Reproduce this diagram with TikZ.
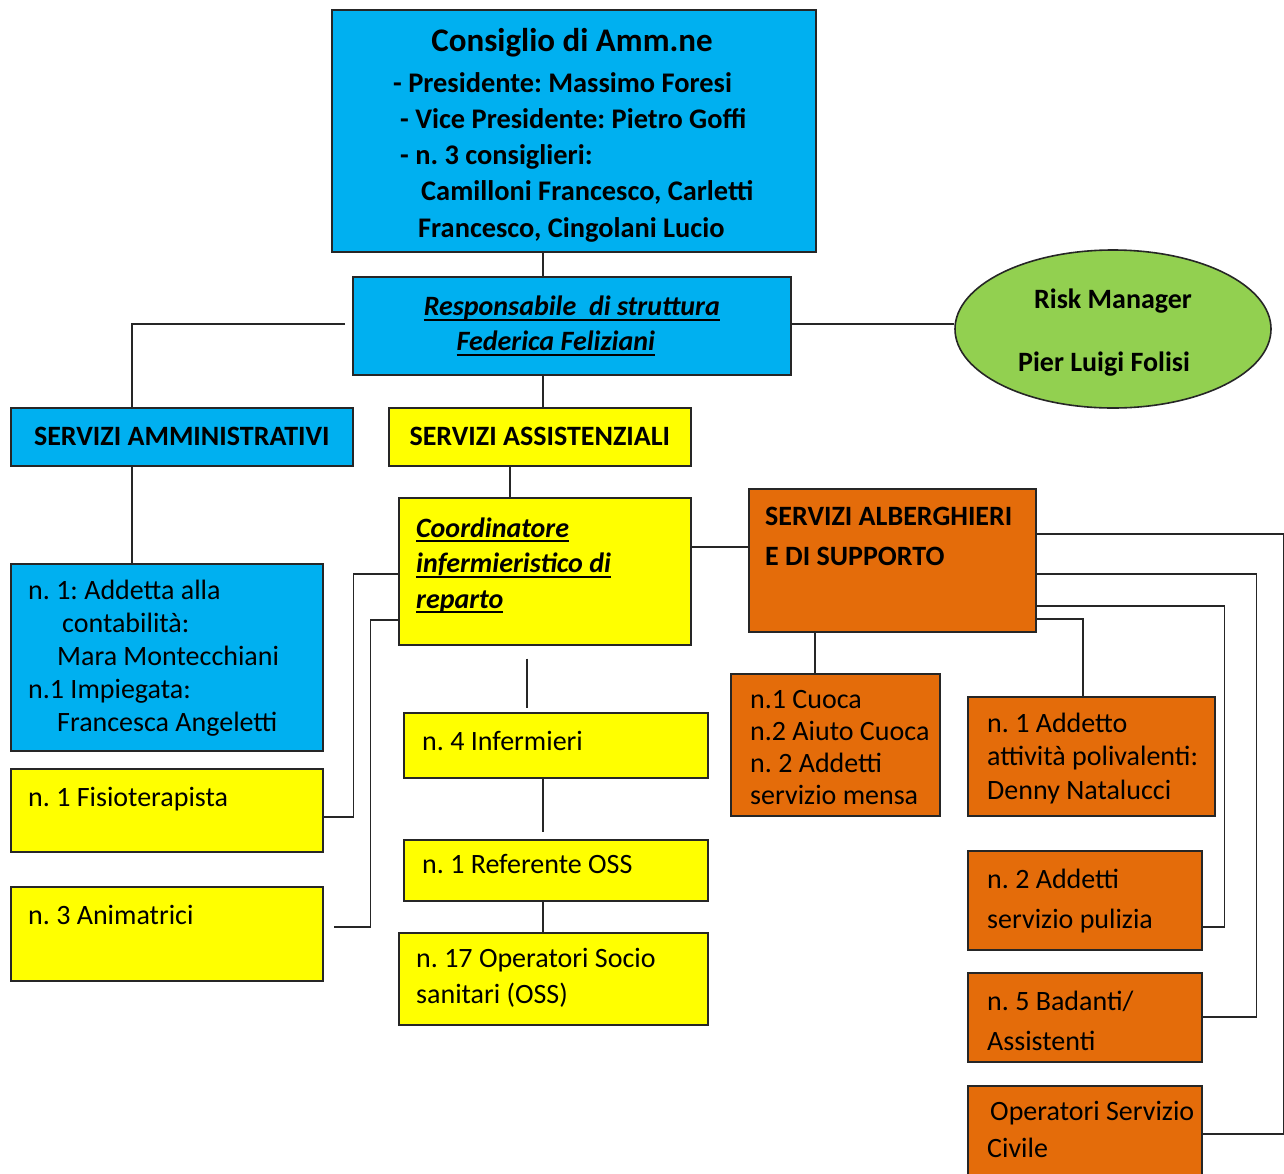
\documentclass[tikz,border=0pt]{standalone}
\usepackage{fontspec}
\setmainfont{Carlito}
\usetikzlibrary{shapes.geometric}

\definecolor{cblue}{HTML}{00B0F0}
\definecolor{cyellow}{HTML}{FFFF00}
\definecolor{corange}{HTML}{E46C0A}
\definecolor{cgreen}{HTML}{92D050}
\newcommand{\myuline}[1]{\leavevmode\setbox0\hbox{#1}\rlap{\rule[-5pt]{\wd0}{1.6pt}}\box0}
\frenchspacing

\tikzset{
  box/.style={draw=black!85, line width=1.6pt, inner sep=0pt, anchor=north west},
  bluebox/.style={box, fill=cblue},
  yellowbox/.style={box, fill=cyellow},
  orangebox/.style={box, fill=corange},
  conn/.style={draw=black!85, line width=1.7pt},
  txt/.style={inner sep=0pt, anchor=base west, align=left, font=\fontsize{28}{33}\selectfont},
  head/.style={font=\bfseries\fontsize{28}{34}\selectfont},
}

\begin{document}
\begin{tikzpicture}[x=1pt, y=-1pt]
    \useasboundingbox (0,0) rectangle (1284,1173);
    \fill[white] (0,0) rectangle (1284,1173);

    % vertical guides for the connectors
    \coordinate (spine) at (543,0);
    \coordinate (admx) at (132,0);
    \coordinate (assx) at (510,0);
    \coordinate (kitx) at (815,0);

    % boxes
    \node[bluebox, minimum width=484pt, minimum height=242pt] (cda) at (331,9) {};
    \node[bluebox, minimum width=438pt, minimum height=98pt, align=center, font=\bfseries\itshape\fontsize{28}{35}\selectfont] (resp) at (352,276)
        {\myuline{Responsabile\ \ di struttura}\\ \myuline{Federica Feliziani}\hspace*{32pt}};
    \node[ellipse, draw=black!85, line width=1.6pt, fill=cgreen, inner sep=0pt, minimum width=316pt, minimum height=158pt] (risk) at (1113,329) {};
    \node[bluebox, head, minimum width=342pt, minimum height=58pt] (amm) at (10,407) {SERVIZI AMMINISTRATIVI};
    \node[yellowbox, head, minimum width=302pt, minimum height=58pt] (ass) at (388,407) {SERVIZI ASSISTENZIALI};
    \node[yellowbox, minimum width=292pt, minimum height=147pt] (coord) at (398,497) {};
    \node[orangebox, minimum width=287pt, minimum height=143pt] (alb) at (748,488) {};
    \node[bluebox, minimum width=312pt, minimum height=187pt] (contab) at (10,563) {};
    \node[yellowbox, minimum width=312pt, minimum height=83pt] (fisio) at (10,768) {};
    \node[yellowbox, minimum width=312pt, minimum height=94pt] (anim) at (10,886) {};
    \node[yellowbox, minimum width=304pt, minimum height=65pt] (inf) at (403,712) {};
    \node[yellowbox, minimum width=304pt, minimum height=61pt] (refoss) at (403,839) {};
    \node[yellowbox, minimum width=309pt, minimum height=92pt] (oss) at (398,932) {};
    \node[orangebox, minimum width=209pt, minimum height=142pt] (cuoca) at (730,673) {};
    \node[orangebox, minimum width=247pt, minimum height=119pt] (poliv) at (967,696) {};
    \node[orangebox, minimum width=234pt, minimum height=99pt] (pulizia) at (967,850) {};
    \node[orangebox, minimum width=234pt, minimum height=89pt] (badanti) at (967,972) {};
    \node[orangebox, minimum width=234pt, minimum height=100pt] (civile) at (967,1085) {};

    % texts (multi-line nodes sit on the baseline of their last line)
    \node[txt, anchor=base, font=\bfseries\fontsize{33}{40}\selectfont] (cdatitle) at (572,51) {Consiglio di Amm.ne};
    \node[txt, font=\bfseries\fontsize{28.4}{36.25}\selectfont] (cdatext) at (393,237)
        {- Presidente: Massimo Foresi\\
         \hspace*{7pt}- Vice Presidente: Pietro Goffi\\
         \hspace*{7pt}- n. 3 consiglieri:\\
         \hspace*{28pt}Camilloni Francesco, Carletti\\
         \hspace*{25pt}Francesco, Cingolani Lucio};
    \node[txt, align=center, anchor=center, font=\bfseries\fontsize{28}{63}\selectfont] (risktext) at (1113,333)
        {Risk Manager\\ Pier Luigi Folisi\hspace*{18pt}};
    \node[txt, font=\bfseries\itshape\fontsize{28}{35.5}\selectfont] (coordtext) at (416,608)
        {\myuline{Coordinatore}\\ \myuline{infermieristico di}\\ \myuline{reparto}};
    \node[txt, font=\bfseries\fontsize{28}{40}\selectfont] (albtext) at (765,565) {SERVIZI ALBERGHIERI\\ E DI SUPPORTO};
    \node[txt] (contabtext) at (28,731)
        {n. 1: Addetta alla\\ \hspace*{34pt}contabilità:\\ \hspace*{29pt}Mara Montecchiani\\
         n.1 Impiegata:\\ \hspace*{29pt}Francesca Angeletti};
    \node[txt] (fisiotext) at (28,806) {n. 1 Fisioterapista};
    \node[txt] (animtext) at (28,924) {n. 3 Animatrici};
    \node[txt] (inftext) at (422,750) {n. 4 Infermieri};
    \node[txt] (refosstext) at (422,873) {n. 1 Referente OSS};
    \node[txt, font=\fontsize{28}{36}\selectfont] (osstext) at (416,1003) {n. 17 Operatori Socio\\ sanitari (OSS)};
    \node[txt, font=\fontsize{28}{31.7}\selectfont] (cuocatext) at (750,804)
        {n.1 Cuoca\\ n.2 Aiuto Cuoca\\ n. 2 Addetti\\ servizio mensa};
    \node[txt, font=\fontsize{28}{33.5}\selectfont] (polivtext) at (987,799)
        {n. 1 Addetto\\ attività polivalenti:\\ Denny Natalucci};
    \node[txt, font=\fontsize{28}{40}\selectfont] (puliziatext) at (987,928) {n. 2 Addetti\\ servizio pulizia};
    \node[txt, font=\fontsize{28}{40}\selectfont] (badantitext) at (987,1050) {n. 5 Badanti/\\ Assistenti};
    \node[txt, font=\fontsize{28}{37}\selectfont] (civiletext) at (987,1157) {\hspace*{3pt}Operatori Servizio\\ Civile};

    % connectors
    \draw[conn] (cda.south -| spine) -- (resp.north -| spine);
    \draw[conn] ([xshift=-7pt,yshift=2pt]resp.west) -| (amm.north -| admx);
    \draw[conn] ([yshift=2pt]resp.east) -- ([yshift=2pt]resp.east -| risk.west);
    \draw[conn] (resp.south -| spine) -- (ass.north -| spine);
    \draw[conn] (amm.south -| admx) -- (contab.north -| admx);
    \draw[conn] (ass.south -| assx) -- (coord.north -| assx);
    \draw[conn] ([yshift=24.5pt]coord.east) -- ([yshift=24.5pt]coord.east -| alb.west);
    \draw[conn] ([yshift=-2.5pt]coord.west) -| ([xshift=30pt,yshift=-6.5pt]fisio.east) -- ([yshift=-6.5pt]fisio.east);
    \draw[conn] ([yshift=-48.5pt]coord.west) -| ([xshift=47pt,yshift=7pt]anim.east) -- ([xshift=10pt,yshift=7pt]anim.east);
    \draw[conn, shorten <=13pt, shorten >=4pt] ([xshift=-18pt]coord.south) -- ([xshift=-18pt]coord.south |- inf.north);
    \draw[conn, shorten >=7pt] (inf.south -| spine) -- (refoss.north -| spine);
    \draw[conn] (refoss.south -| spine) -- (oss.north -| spine);
    \draw[conn] (alb.south -| kitx) -- (cuoca.north -| kitx);
    \draw[conn] ([yshift=26.5pt]alb.east) -| ([xshift=81pt,yshift=1.5pt]civile.east) -- ([yshift=1.5pt]civile.east);
    \draw[conn] ([yshift=-13.5pt]alb.east) -| ([xshift=54pt]badanti.east) -- (badanti.east);
    \draw[conn] ([yshift=-45.5pt]alb.east) -| ([xshift=22pt,yshift=-26.5pt]pulizia.east) -- ([yshift=-26.5pt]pulizia.east);
    \draw[conn] ([yshift=-58.5pt]alb.east) -| ([xshift=-8.5pt]poliv.north);
\end{tikzpicture}
\end{document}
